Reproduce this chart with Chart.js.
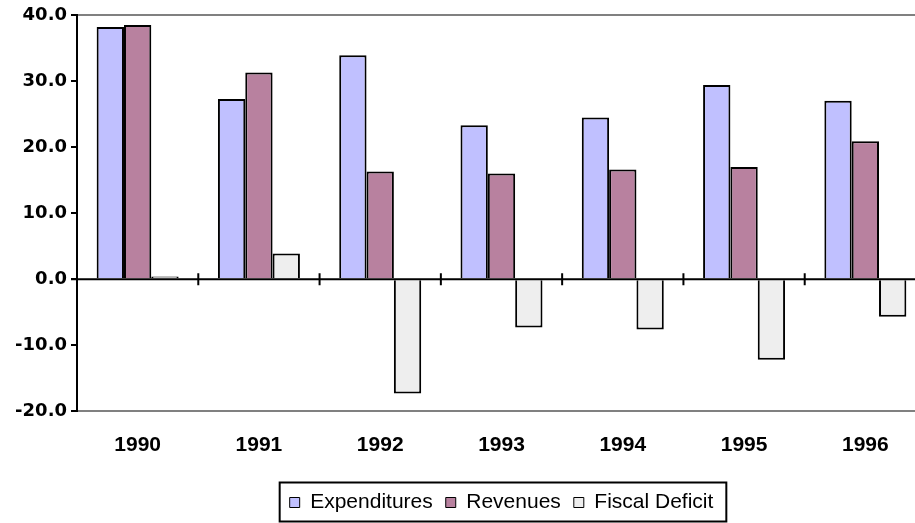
<!DOCTYPE html>
<html>
<head>
<meta charset="utf-8">
<script src="https://cdn.jsdelivr.net/npm/chart.js@4"></script>
<style>
  html, body { margin: 0; padding: 0; background: #fff; overflow: hidden; }
  #wrap { width: 926px; height: 523px; }
</style>
</head>
<body>
<div id="wrap"><canvas id="fiscalChart"></canvas></div>
<script>
const years = ['1990', '1991', '1992', '1993', '1994', '1995', '1996'];
const expenditures = [38.2, 27.3, 33.9, 23.3, 24.5, 29.4, 27.0];
const revenues = [38.5, 31.3, 16.3, 16.0, 16.6, 17.0, 20.9];
const fiscalDeficit = [0.4, 3.9, -17.3, -7.3, -7.6, -12.2, -5.7];
const yTicks = [40, 30, 20, 10, 0, -10, -20];

const FONT = '"Liberation Sans", Arial, sans-serif';

// zero line with small tick marks between the years, plus the frame round the legend
const zeroLine = {
  id: 'zeroLine',
  afterDatasetsDraw(chart) {
    const { ctx, chartArea } = chart;
    const x = chart.scales.x;
    const y0 = chart.scales.y.getPixelForValue(0);
    ctx.save();
    ctx.strokeStyle = '#000';
    ctx.lineWidth = 2;
    ctx.beginPath();
    ctx.moveTo(chartArea.left - 6, y0);
    ctx.lineTo(chartArea.right, y0);
    for (let i = 0; i < years.length - 1; i++) {
      const bx = (x.getPixelForValue(i) + x.getPixelForValue(i + 1)) / 2;
      ctx.moveTo(bx, y0 - 6);
      ctx.lineTo(bx, y0 + 6);
    }
    ctx.stroke();
    ctx.restore();
  },
  afterDraw(chart) {
    const boxes = chart.legend.legendHitBoxes;
    if (!boxes || !boxes.length) return;
    const first = boxes[0];
    const last = boxes[boxes.length - 1];
    const cy = first.top + first.height / 2;
    const { ctx } = chart;
    ctx.save();
    ctx.strokeStyle = '#000';
    ctx.lineWidth = 2;
    ctx.strokeRect(first.left - 10, cy - 20, last.left + last.width - first.left + 23, 39);
    ctx.restore();
  }
};

new Chart(document.getElementById('fiscalChart'), {
  type: 'bar',
  data: {
    labels: years,
    datasets: [
      { label: 'Expenditures', data: expenditures, backgroundColor: '#C0C0FF' },
      { label: 'Revenues', data: revenues, backgroundColor: '#B8819F' },
      { label: 'Fiscal Deficit', data: fiscalDeficit, backgroundColor: '#EEEEEE' }
    ]
  },
  options: {
    responsive: true,
    maintainAspectRatio: false,
    animation: false,
    layout: { padding: { top: 15, right: 0, bottom: 0, left: 0 } },
    datasets: {
      bar: {
        borderColor: '#000',
        borderWidth: 2,
        borderSkipped: 'start',
        barPercentage: 1,
        categoryPercentage: 0.676
      }
    },
    plugins: {
      tooltip: { enabled: false },
      legend: {
        position: 'bottom',
        fullSize: false,
        labels: {
          color: '#000',
          font: { family: FONT, size: 21 },
          boxWidth: 10,
          boxHeight: 10,
          padding: 13,
          generateLabels(chart) {
            const items = Chart.defaults.plugins.legend.labels.generateLabels(chart);
            items.forEach(it => { it.lineWidth = 1; it.strokeStyle = '#000'; });
            return items;
          }
        }
      }
    },
    scales: {
      x: {
        grid: { display: false, drawTicks: false },
        border: { display: false },
        ticks: {
          color: '#000',
          padding: 21,
          font: { family: FONT, size: 21, weight: 'bold' }
        },
        afterFit(scale) { scale.height += 0.5; }
      },
      y: {
        min: -20,
        max: 40,
        afterFit(scale) { scale.width = 77; },
        afterBuildTicks(scale) { scale.ticks = yTicks.map(v => ({ value: v })); },
        border: { color: '#000', width: 2 },
        grid: {
          lineWidth: 2,
          color: c => (c.tick && (c.tick.value === 40 || c.tick.value === -20)) ? '#808080' : 'rgba(0,0,0,0)',
          tickColor: '#000',
          tickLength: 6
        },
        ticks: {
          color: '#000',
          padding: 4,
          font: { family: '"DejaVu Sans", sans-serif', size: 18, weight: 'bold' },
          callback: v => Number(v).toFixed(1)
        }
      }
    }
  },
  plugins: [zeroLine]
});
</script>
</body>
</html>
